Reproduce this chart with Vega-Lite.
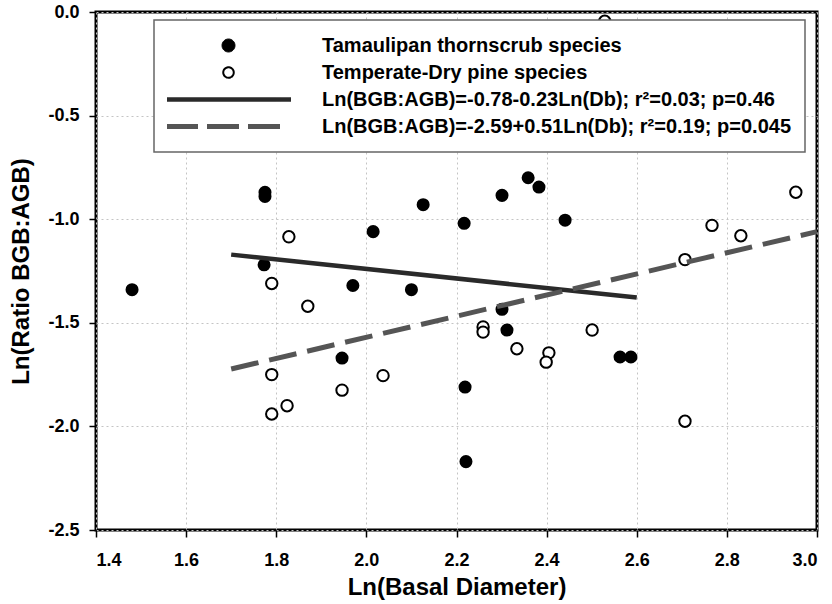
{
  "$schema": "https://vega.github.io/schema/vega-lite/v6.json",
  "width": 721,
  "height": 518,
  "autosize": {"type": "none"},
  "padding": {"left": 96, "top": 12, "right": 15, "bottom": 74},
  "background": "white",
  "config": {
    "view": {"stroke": "black", "strokeWidth": 3},
    "font": "Liberation Sans",
    "axis": {
      "labelFont": "Liberation Sans", "labelFontWeight": "bold", "labelFontSize": 18, "labelColor": "black",
      "titleFont": "Liberation Sans", "titleFontWeight": "bold", "titleFontSize": 24, "titleColor": "black",
      "domain": false, "tickColor": "black", "tickWidth": 1.5, "tickSize": 7,
      "grid": true, "gridColor": "#c4c4c4", "gridDash": [2, 3], "gridWidth": 1
    }
  },
  "datasets": {
    "tam": [
      {"series": "Tamaulipan thornscrub species", "ln_db": 1.48, "ln_ratio": -1.34},
      {"series": "Tamaulipan thornscrub species", "ln_db": 1.775, "ln_ratio": -0.87},
      {"series": "Tamaulipan thornscrub species", "ln_db": 1.775, "ln_ratio": -0.89},
      {"series": "Tamaulipan thornscrub species", "ln_db": 2.126, "ln_ratio": -0.93},
      {"series": "Tamaulipan thornscrub species", "ln_db": 2.217, "ln_ratio": -1.02},
      {"series": "Tamaulipan thornscrub species", "ln_db": 2.015, "ln_ratio": -1.06},
      {"series": "Tamaulipan thornscrub species", "ln_db": 1.773, "ln_ratio": -1.22},
      {"series": "Tamaulipan thornscrub species", "ln_db": 1.97, "ln_ratio": -1.32},
      {"series": "Tamaulipan thornscrub species", "ln_db": 2.10, "ln_ratio": -1.34},
      {"series": "Tamaulipan thornscrub species", "ln_db": 1.946, "ln_ratio": -1.67},
      {"series": "Tamaulipan thornscrub species", "ln_db": 2.219, "ln_ratio": -1.81},
      {"series": "Tamaulipan thornscrub species", "ln_db": 2.221, "ln_ratio": -2.17},
      {"series": "Tamaulipan thornscrub species", "ln_db": 2.359, "ln_ratio": -0.80},
      {"series": "Tamaulipan thornscrub species", "ln_db": 2.383, "ln_ratio": -0.845},
      {"series": "Tamaulipan thornscrub species", "ln_db": 2.301, "ln_ratio": -0.885},
      {"series": "Tamaulipan thornscrub species", "ln_db": 2.441, "ln_ratio": -1.005},
      {"series": "Tamaulipan thornscrub species", "ln_db": 2.301, "ln_ratio": -1.435},
      {"series": "Tamaulipan thornscrub species", "ln_db": 2.312, "ln_ratio": -1.535},
      {"series": "Tamaulipan thornscrub species", "ln_db": 2.563, "ln_ratio": -1.665},
      {"series": "Tamaulipan thornscrub species", "ln_db": 2.587, "ln_ratio": -1.665}
    ],
    "pine": [
      {"series": "Temperate-Dry pine species", "ln_db": 1.828, "ln_ratio": -1.085},
      {"series": "Temperate-Dry pine species", "ln_db": 1.79, "ln_ratio": -1.31},
      {"series": "Temperate-Dry pine species", "ln_db": 1.87, "ln_ratio": -1.42},
      {"series": "Temperate-Dry pine species", "ln_db": 1.79, "ln_ratio": -1.75},
      {"series": "Temperate-Dry pine species", "ln_db": 2.037, "ln_ratio": -1.755},
      {"series": "Temperate-Dry pine species", "ln_db": 1.946, "ln_ratio": -1.825},
      {"series": "Temperate-Dry pine species", "ln_db": 1.824, "ln_ratio": -1.90},
      {"series": "Temperate-Dry pine species", "ln_db": 1.79, "ln_ratio": -1.94},
      {"series": "Temperate-Dry pine species", "ln_db": 2.529, "ln_ratio": -0.045},
      {"series": "Temperate-Dry pine species", "ln_db": 2.953, "ln_ratio": -0.87},
      {"series": "Temperate-Dry pine species", "ln_db": 2.767, "ln_ratio": -1.03},
      {"series": "Temperate-Dry pine species", "ln_db": 2.831, "ln_ratio": -1.08},
      {"series": "Temperate-Dry pine species", "ln_db": 2.707, "ln_ratio": -1.195},
      {"series": "Temperate-Dry pine species", "ln_db": 2.259, "ln_ratio": -1.52},
      {"series": "Temperate-Dry pine species", "ln_db": 2.259, "ln_ratio": -1.545},
      {"series": "Temperate-Dry pine species", "ln_db": 2.334, "ln_ratio": -1.625},
      {"series": "Temperate-Dry pine species", "ln_db": 2.405, "ln_ratio": -1.645},
      {"series": "Temperate-Dry pine species", "ln_db": 2.399, "ln_ratio": -1.69},
      {"series": "Temperate-Dry pine species", "ln_db": 2.501, "ln_ratio": -1.535},
      {"series": "Temperate-Dry pine species", "ln_db": 2.707, "ln_ratio": -1.975}
    ],
    "fitTam": [
      {"series": "Ln(BGB:AGB)=-0.78-0.23Ln(Db); r²=0.03; p=0.46", "ln_db": 1.7, "ln_ratio": -1.171},
      {"series": "Ln(BGB:AGB)=-0.78-0.23Ln(Db); r²=0.03; p=0.46", "ln_db": 2.6, "ln_ratio": -1.378}
    ],
    "fitPine": [
      {"series": "Ln(BGB:AGB)=-2.59+0.51Ln(Db); r²=0.19; p=0.045", "ln_db": 1.7, "ln_ratio": -1.723},
      {"series": "Ln(BGB:AGB)=-2.59+0.51Ln(Db); r²=0.19; p=0.045", "ln_db": 3.0, "ln_ratio": -1.06}
    ]
  },
  "encoding": {
    "x": {
      "field": "ln_db", "type": "quantitative",
      "scale": {"domain": [1.4, 3.0], "nice": false, "zero": false},
      "axis": {"title": "Ln(Basal Diameter)", "values": [1.4, 1.6, 1.8, 2.0, 2.2, 2.4, 2.6, 2.8, 3.0], "format": ".1f", "labelPadding": 14, "titleY": 45}
    },
    "y": {
      "field": "ln_ratio", "type": "quantitative",
      "scale": {"domain": [-2.5, 0], "nice": false, "zero": false},
      "axis": {"title": "Ln(Ratio BGB:AGB)", "values": [-2.5, -2.0, -1.5, -1.0, -0.5, 0.0], "format": ".1f", "labelExpr": "replace(datum.label, '−', '-')", "labelPadding": 10, "titleX": -68, "titleBaseline": "alphabetic"}
    },
    "color": {
      "field": "series", "type": "nominal",
      "scale": {
        "domain": ["Tamaulipan thornscrub species", "Temperate-Dry pine species", "Ln(BGB:AGB)=-0.78-0.23Ln(Db); r²=0.03; p=0.46", "Ln(BGB:AGB)=-2.59+0.51Ln(Db); r²=0.19; p=0.045"],
        "range": ["black", "black", "#2a2a2a", "#555555"]
      },
      "legend": {
        "title": null,
        "orient": "none", "legendX": 58, "legendY": 8,
        "strokeColor": "#666666", "fillColor": "white", "padding": 13,
        "labelFont": "Liberation Sans", "labelFontSize": 20, "labelFontWeight": "bold", "labelColor": "black",
        "labelLimit": 700, "labelOffset": 83.5, "symbolOffset": 51.5, "symbolSize": 15625, "clipHeight": 25, "rowPadding": 2,
        "encode": {
          "legend": {"update": {"strokeWidth": {"value": 1.5}}},
          "symbols": {
            "update": {
              "shape": {"signal": "datum.index == 0 ? 'M-0.104,0A0.104,0.104,0,1,0,0.104,0A0.104,0.104,0,1,0,-0.104,0Z' : datum.index == 1 ? 'M-0.084,0A0.084,0.084,0,1,0,0.084,0A0.084,0.084,0,1,0,-0.084,0Z' : 'stroke'"},
              "fillOpacity": {"signal": "datum.index == 1 ? 0 : 1"},
              "strokeWidth": {"signal": "datum.index == 0 ? 1 : datum.index == 1 ? 2 : datum.index == 2 ? 4.5 : 5"},
              "strokeDash": {"signal": "datum.index == 3 ? [32, 9, 32, 9, 32, 30] : [1, 0]"},
              "opacity": {"value": 1}
            }
          }
        }
      }
    }
  },
  "layer": [
    {
      "data": {"name": "tam"},
      "mark": {"type": "point", "shape": "circle", "filled": true, "size": 170, "opacity": 1}
    },
    {
      "data": {"name": "pine"},
      "mark": {"type": "point", "shape": "circle", "filled": false, "fill": "white", "size": 130, "strokeWidth": 2, "opacity": 1}
    },
    {
      "data": {"name": "fitTam"},
      "mark": {"type": "line", "strokeWidth": 4.5}
    },
    {
      "data": {"name": "fitPine"},
      "mark": {"type": "line", "strokeWidth": 5, "strokeDash": [28, 11]}
    }
  ]
}
